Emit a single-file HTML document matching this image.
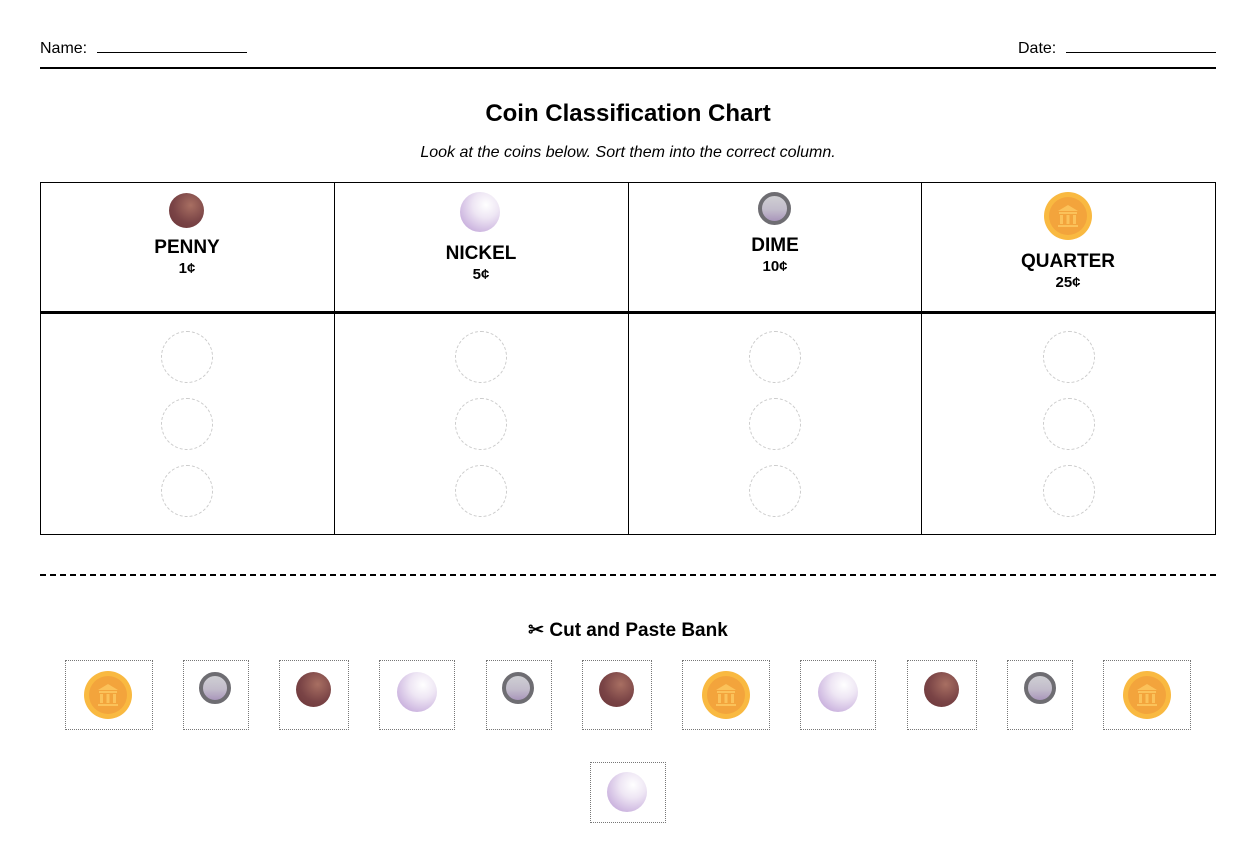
<!DOCTYPE html>
<html><head><meta charset="utf-8"><style>
*{margin:0;padding:0;box-sizing:border-box}
body{width:1256px;height:863px;background:#fff;position:relative;font-family:"Liberation Sans",sans-serif;color:#000;overflow:hidden}
.a{position:absolute}
.c{position:absolute;border-radius:50%}
.p{background:radial-gradient(circle at 62% 35%,#a86f62,#7a4446 55%,#6a3538 100%)}
.n{background:radial-gradient(circle at 65% 32%,#ffffff 0%,#eee6f4 35%,#cdb6e0 75%,#b596cf 100%)}
.d{background:linear-gradient(#cfcfd3,#c2bccb 55%,#a996bb);border:4px solid #6e6d72}
.q{background:#f9b941}
.q svg{position:absolute;left:0;top:0;width:100%;height:100%}
.lbl{position:absolute;text-align:center;font-weight:bold;width:294px}
.dc{position:absolute;width:52px;height:52px;border:1px dashed #ccc;border-radius:50%}
.bx{position:absolute;border:1px dotted #777;top:660px;height:70px}
.txt{font-size:16px;position:absolute}
</style></head><body>
<div class="txt" style="left:40px;top:40px">Name:</div>
<div class="a" style="left:97px;top:52px;width:150px;border-top:1px solid #000"></div>
<div class="txt" style="left:1018px;top:40px">Date:</div>
<div class="a" style="left:1066px;top:52px;width:150px;border-top:1px solid #000"></div>
<div class="a" style="left:40px;top:67px;width:1176px;border-top:2px solid #000"></div>
<div class="a" style="left:0;width:1256px;top:100px;text-align:center;font-size:24px;font-weight:bold">Coin Classification Chart</div>
<div class="a" style="left:0;width:1256px;top:144px;text-align:center;font-size:16px;font-style:italic">Look at the coins below. Sort them into the correct column.</div>

<div class="a" style="left:40px;top:182px;width:1176px;height:353px;border:1px solid #000"></div>
<div class="a" style="left:40px;top:311px;width:1176px;border-top:3px solid #000"></div>
<div class="a" style="left:334px;top:182px;height:353px;border-left:1px solid #000"></div>
<div class="a" style="left:628px;top:182px;height:353px;border-left:1px solid #000"></div>
<div class="a" style="left:921px;top:182px;height:353px;border-left:1px solid #000"></div>

<div class="c p" style="left:169px;top:193px;width:35px;height:35px"></div>
<div class="lbl" style="left:40px;top:237px;font-size:19px">PENNY</div>
<div class="lbl" style="left:40px;top:260px;font-size:15px">1¢</div>
<div class="c n" style="left:460px;top:192px;width:40px;height:40px"></div>
<div class="lbl" style="left:334px;top:243px;font-size:19px">NICKEL</div>
<div class="lbl" style="left:334px;top:266px;font-size:15px">5¢</div>
<div class="c d" style="left:758px;top:192px;width:33px;height:33px"></div>
<div class="lbl" style="left:628px;top:235px;font-size:19px">DIME</div>
<div class="lbl" style="left:628px;top:258px;font-size:15px">10¢</div>
<div class="c q" style="left:1044px;top:192px;width:48px;height:48px"><svg viewBox="0 0 48 48"><circle cx="24" cy="24" r="19" fill="#f3a43c"/><path d="M14 19 L24 13 L34 19 Z M15 20 h18 v2 h-18z M16 23 h3 v9 h-3z M22.5 23 h3 v9 h-3z M29 23 h3 v9 h-3z M14 33 h20 v2 h-20z" fill="#fbc25a"/></svg></div>
<div class="lbl" style="left:921px;top:251px;font-size:19px">QUARTER</div>
<div class="lbl" style="left:921px;top:274px;font-size:15px">25¢</div>

<div class="dc" style="left:161px;top:331px"></div><div class="dc" style="left:161px;top:398px"></div><div class="dc" style="left:161px;top:465px"></div>
<div class="dc" style="left:455px;top:331px"></div><div class="dc" style="left:455px;top:398px"></div><div class="dc" style="left:455px;top:465px"></div>
<div class="dc" style="left:749px;top:331px"></div><div class="dc" style="left:749px;top:398px"></div><div class="dc" style="left:749px;top:465px"></div>
<div class="dc" style="left:1043px;top:331px"></div><div class="dc" style="left:1043px;top:398px"></div><div class="dc" style="left:1043px;top:465px"></div>

<div class="a" style="left:40px;top:574px;width:1176px;border-top:2px dashed #000"></div>
<div class="a" style="left:0;width:1256px;top:619px;text-align:center;font-size:19px;font-weight:bold">✂ Cut and Paste Bank</div>

<div class="bx" style="left:65px;width:88px"></div><div class="c q" style="left:84px;top:671px;width:48px;height:48px"><svg viewBox="0 0 48 48"><circle cx="24" cy="24" r="19" fill="#f3a43c"/><path d="M14 19 L24 13 L34 19 Z M15 20 h18 v2 h-18z M16 23 h3 v9 h-3z M22.5 23 h3 v9 h-3z M29 23 h3 v9 h-3z M14 33 h20 v2 h-20z" fill="#fbc25a"/></svg></div>
<div class="bx" style="left:183px;width:66px"></div><div class="c d" style="left:199px;top:672px;width:32px;height:32px"></div>
<div class="bx" style="left:279px;width:70px"></div><div class="c p" style="left:296px;top:672px;width:35px;height:35px"></div>
<div class="bx" style="left:379px;width:76px"></div><div class="c n" style="left:397px;top:672px;width:40px;height:40px"></div>
<div class="bx" style="left:486px;width:66px"></div><div class="c d" style="left:502px;top:672px;width:32px;height:32px"></div>
<div class="bx" style="left:582px;width:70px"></div><div class="c p" style="left:599px;top:672px;width:35px;height:35px"></div>
<div class="bx" style="left:682px;width:88px"></div><div class="c q" style="left:702px;top:671px;width:48px;height:48px"><svg viewBox="0 0 48 48"><circle cx="24" cy="24" r="19" fill="#f3a43c"/><path d="M14 19 L24 13 L34 19 Z M15 20 h18 v2 h-18z M16 23 h3 v9 h-3z M22.5 23 h3 v9 h-3z M29 23 h3 v9 h-3z M14 33 h20 v2 h-20z" fill="#fbc25a"/></svg></div>
<div class="bx" style="left:800px;width:76px"></div><div class="c n" style="left:818px;top:672px;width:40px;height:40px"></div>
<div class="bx" style="left:907px;width:70px"></div><div class="c p" style="left:924px;top:672px;width:35px;height:35px"></div>
<div class="bx" style="left:1007px;width:66px"></div><div class="c d" style="left:1024px;top:672px;width:32px;height:32px"></div>
<div class="bx" style="left:1103px;width:88px"></div><div class="c q" style="left:1123px;top:671px;width:48px;height:48px"><svg viewBox="0 0 48 48"><circle cx="24" cy="24" r="19" fill="#f3a43c"/><path d="M14 19 L24 13 L34 19 Z M15 20 h18 v2 h-18z M16 23 h3 v9 h-3z M22.5 23 h3 v9 h-3z M29 23 h3 v9 h-3z M14 33 h20 v2 h-20z" fill="#fbc25a"/></svg></div>
<div class="bx" style="left:590px;width:76px;top:762px;height:61px"></div><div class="c n" style="left:607px;top:772px;width:40px;height:40px"></div>
</body></html>
